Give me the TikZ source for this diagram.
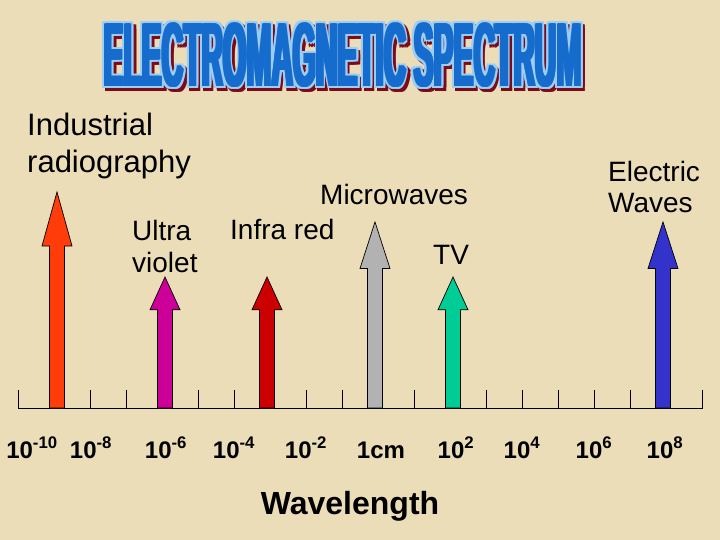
\documentclass[tikz,border=0pt]{standalone}
\usepackage{fontspec}
\setmainfont{Liberation Sans}
\usetikzlibrary{positioning}

\definecolor{paper}{RGB}{236,221,185}
\definecolor{xray}{RGB}{255,60,10}
\definecolor{uviolet}{RGB}{204,0,153}
\definecolor{ired}{RGB}{204,0,0}
\definecolor{micro}{RGB}{178,178,178}
\definecolor{tvgreen}{RGB}{0,204,150}
\definecolor{elblue}{RGB}{51,51,204}
\definecolor{titleblue}{RGB}{22,108,205}
\definecolor{titleedge}{RGB}{155,205,245}
\definecolor{titleshadow}{RGB}{125,10,25}

\newcommand{\emtitle}{\scalebox{0.328}[1]{\bfseries\fontsize{91}{91}\selectfont ELECTROMAGNETIC SPECTRUM}}

% name, x, tip y, colour
\newcommand{\emarrow}[4]{%
  \pgfmathsetmacro{\headlen}{0.25*(408-#3)}
  \coordinate (#1) at (#2,#3);
  \draw[band, fill=#4] (#2-7.5,408) -- (#2-7.5,#3+\headlen) -- (#2-15,#3+\headlen)
    -- (#1) -- (#2+15,#3+\headlen) -- (#2+7.5,#3+\headlen) -- (#2+7.5,408) -- cycle;
}

\begin{document}
\begin{tikzpicture}[x=1pt, y=-1pt,
    band/.style={draw=black, line width=0.7pt, line join=miter},
    tickline/.style={draw=black, line width=0.9pt},
    titletext/.style={inner sep=0pt, anchor=base west},
    lbl/.style={inner sep=0pt, align=left, anchor=base west, font=\fontsize{28}{31.5}\selectfont},
    scalelbl/.style={inner sep=0pt, anchor=base, font=\bfseries\fontsize{24}{28}\selectfont}
]
\fill[paper] (0,0) rectangle (720,540);
\useasboundingbox (0,0) rectangle (720,540);

% Title
\foreach \dx [count=\i] in {-3.4,-1.7,0,1.7,3.4}
  \foreach \dy [count=\j] in {-2,2}
    \node[titletext, text=titleshadow] (shade\i\j) at (104+\dx+2.5,87+\dy+3) {\emtitle};
\foreach \dx [count=\i] in {-3.4,-1.7,0,1.7,3.4}
  \foreach \dy [count=\j] in {-2,0,2}
    \node[titletext, text=titleedge] (rim\i\j) at (104+\dx,87+\dy) {\emtitle};
\foreach \dx [count=\i] in {-1.6,-0.8,0.8,1.6}
  \node[titletext, text=titleblue] (bold\i) at (104+\dx,87) {\emtitle};
\node[titletext, text=titleblue] (title) at (104,87) {\emtitle};

% Axis
\coordinate (axisL) at (18,408);
\coordinate (axisR) at (703,408);
\foreach \k in {0,...,19}
  \draw[tickline] (18+36*\k,408) -- ++(0,-18);

% Bands
\emarrow{indtip}{57}{192}{xray}
\emarrow{uvtip}{165}{277}{uviolet}
\emarrow{irtip}{267}{277}{ired}
\emarrow{mwtip}{375}{222}{micro}
\emarrow{tvtip}{453}{277}{tvgreen}
\emarrow{ewtip}{663}{222}{elblue}
\draw[tickline] (axisL) -- (axisR);

% Band names
\node[lbl, font=\fontsize{31}{37}\selectfont] (indrad) at (27,173) {Industrial\\radiography};
\node[lbl] (uv) at (132,272) {Ultra\\violet};
\node[lbl] (ir) at (230,240) {Infra red};
\node[lbl] (mw) at (320,205) {Microwaves};
\node[lbl] (tv) at (433,264) {TV};
\node[lbl, font=\fontsize{28}{32}\selectfont] (ew) at (608,213) {Electric\\Waves};

% Scale
\foreach \x/\t [count=\i] in {32/{10\textsuperscript{-10}}, 91/{10\textsuperscript{-8}},
    166/{10\textsuperscript{-6}}, 234/{10\textsuperscript{-4}}, 306/{10\textsuperscript{-2}},
    381/{1cm}, 456/{10\textsuperscript{2}}, 522/{10\textsuperscript{4}},
    594/{10\textsuperscript{6}}, 665/{10\textsuperscript{8}}}
  \node[scalelbl] (w\i) at (\x,458) {\t};
\node[inner sep=0pt, anchor=base, font=\bfseries\fontsize{32}{36}\selectfont] (wl) at (350,514) {Wavelength};
\end{tikzpicture}
\end{document}
